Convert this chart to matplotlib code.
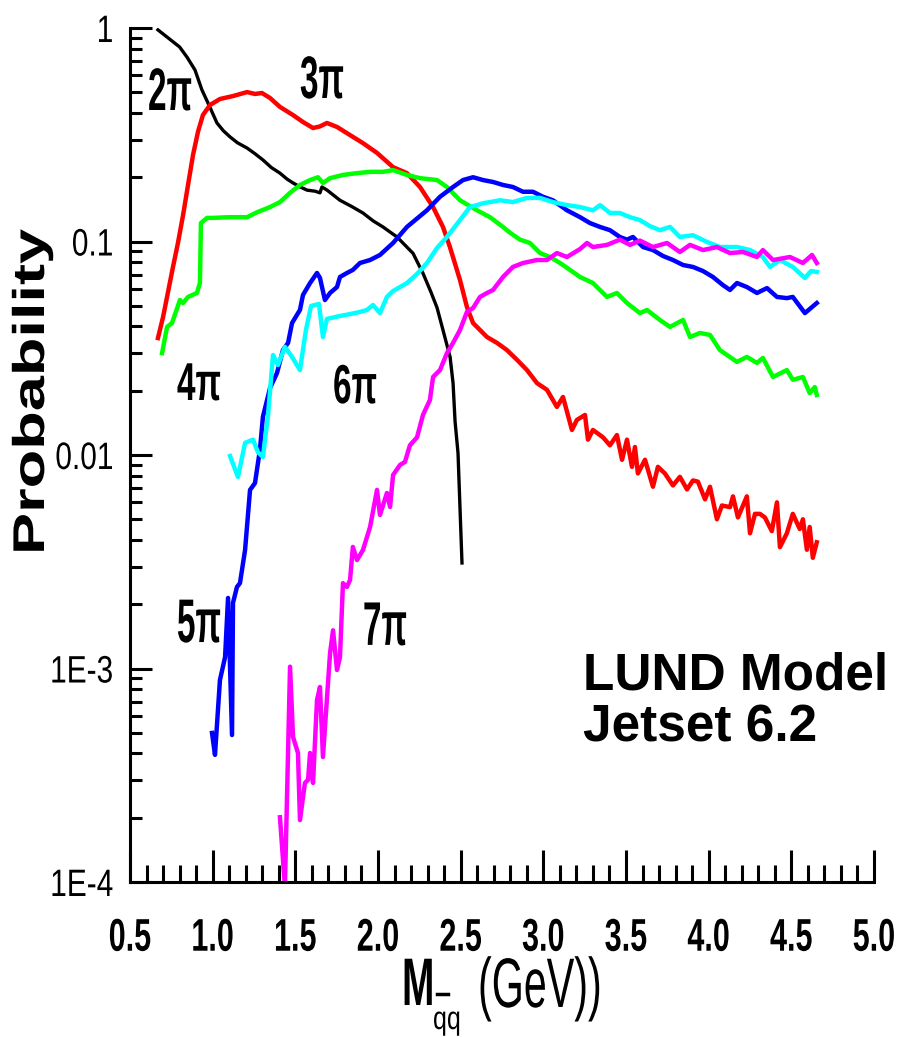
import numpy as np
import matplotlib.pyplot as plt
from matplotlib.patheffects import AbstractPathEffect
from matplotlib.transforms import Affine2D
from matplotlib.ticker import FixedLocator, NullFormatter
from matplotlib.lines import Line2D

plt.rcParams['font.family'] = ['Liberation Sans', 'DejaVu Sans']

# Multiplicity probabilities vs q-qbar mass (GeV), LUND / Jetset 6.2
m_2pi = [0.669, 0.724, 0.800, 0.845, 0.893, 0.935, 0.972, 1.026, 1.065, 1.105, 1.150, 1.208,
         1.255, 1.304, 1.355, 1.407, 1.450, 1.486, 1.530, 1.571, 1.620, 1.649, 1.661, 1.692,
         1.730, 1.770, 1.840, 1.909, 1.970, 2.030, 2.115, 2.170, 2.212, 2.272, 2.320, 2.357,
         2.393, 2.436, 2.454, 2.466, 2.484, 2.508]
p_2pi = [0.98, 0.907, 0.815, 0.73, 0.636, 0.513, 0.445, 0.359, 0.33, 0.309, 0.29, 0.274,
         0.258, 0.241, 0.222, 0.209, 0.196, 0.188, 0.180, 0.174, 0.172, 0.169, 0.180, 0.174,
         0.165, 0.156, 0.146, 0.136, 0.125, 0.117, 0.105, 0.095, 0.088, 0.071, 0.058, 0.049,
         0.0385, 0.0288, 0.0217, 0.0144, 0.0102, 0.00312]

m_3pi = [0.669, 0.700, 0.730, 0.760, 0.790, 0.821, 0.851, 0.881, 0.911, 0.941, 0.984, 1.044,
         1.123, 1.208, 1.256, 1.298, 1.347, 1.407, 1.486, 1.546, 1.607, 1.649, 1.691, 1.752,
         1.831, 1.909, 1.994, 2.091, 2.175, 2.254, 2.333, 2.393, 2.435, 2.496, 2.538, 2.575,
         2.617, 2.659, 2.720, 2.780, 2.841, 2.901, 2.962, 3.022, 3.082, 3.119, 3.173, 3.203,
         3.252, 3.270, 3.300, 3.361, 3.403, 3.445, 3.476, 3.506, 3.536, 3.554, 3.572, 3.615,
         3.663, 3.693, 3.735, 3.784, 3.826, 3.869, 3.905, 3.935, 3.978, 4.008, 4.050, 4.080,
         4.129, 4.147, 4.177, 4.231, 4.250, 4.280, 4.310, 4.340, 4.382, 4.413, 4.431, 4.473,
         4.509, 4.551, 4.570, 4.594, 4.611, 4.630, 4.654]
p_3pi = [0.0353, 0.0443, 0.058, 0.076, 0.0984, 0.133, 0.184, 0.254, 0.326, 0.391, 0.436, 0.465,
         0.480, 0.501, 0.491, 0.496, 0.470, 0.427, 0.391, 0.363, 0.340, 0.346, 0.359, 0.344,
         0.315, 0.289, 0.260, 0.223, 0.209, 0.180, 0.145, 0.117, 0.0942, 0.066, 0.0493, 0.0415,
         0.0385, 0.0357, 0.0335, 0.0310, 0.0279, 0.0250, 0.0217, 0.0202, 0.0168, 0.0187, 0.0131, 0.0146,
         0.0154, 0.0118, 0.0131, 0.0121, 0.0111, 0.0124, 0.0095, 0.0118, 0.0088, 0.0109, 0.0082, 0.0095,
         0.0071, 0.0088, 0.0082, 0.0072, 0.0079, 0.0069, 0.0076, 0.0075, 0.0062, 0.0071, 0.0050, 0.0058,
         0.0057, 0.0064, 0.0051, 0.0064, 0.0043, 0.0053, 0.0053, 0.0051, 0.0044, 0.0060, 0.0037, 0.0043,
         0.0053, 0.0045, 0.0050, 0.0036, 0.0046, 0.0033, 0.0039]

m_4pi = [0.694, 0.724, 0.754, 0.802, 0.821, 0.851, 0.905, 0.923, 0.929, 0.966, 1.002, 1.105,
         1.208, 1.268, 1.347, 1.407, 1.468, 1.528, 1.589, 1.637, 1.667, 1.710, 1.788, 1.873,
         1.952, 2.030, 2.091, 2.175, 2.254, 2.357, 2.417, 2.496, 2.599, 2.677, 2.756, 2.798,
         2.859, 2.919, 2.980, 3.040, 3.101, 3.161, 3.222, 3.300, 3.385, 3.445, 3.506, 3.584,
         3.627, 3.705, 3.766, 3.845, 3.887, 3.947, 4.008, 4.068, 4.171, 4.231, 4.292, 4.328,
         4.389, 4.473, 4.509, 4.570, 4.611, 4.642, 4.654]
p_4pi = [0.0300, 0.0398, 0.0415, 0.0532, 0.0515, 0.0550, 0.0574, 0.064, 0.122, 0.129, 0.129, 0.130,
         0.130, 0.137, 0.145, 0.153, 0.169, 0.184, 0.194, 0.200, 0.188, 0.198, 0.205, 0.209,
         0.212, 0.212, 0.216, 0.205, 0.198, 0.194, 0.180, 0.156, 0.140, 0.130, 0.117, 0.110,
         0.102, 0.0984, 0.0883, 0.0846, 0.0793, 0.0736, 0.0682, 0.0639, 0.0550, 0.0574, 0.0515, 0.0462,
         0.0478, 0.0429, 0.0398, 0.0429, 0.0357, 0.0373, 0.0365, 0.0310, 0.0273, 0.0288, 0.0270, 0.0285,
         0.0232, 0.0250, 0.0225, 0.0232, 0.0195, 0.0208, 0.0191]

m_5pi = [0.996, 1.014, 1.044, 1.075, 1.093, 1.117, 1.123, 1.147, 1.165, 1.196, 1.226, 1.256,
         1.286, 1.304, 1.347, 1.389, 1.425, 1.456, 1.480, 1.528, 1.546, 1.589, 1.631, 1.649,
         1.679, 1.710, 1.752, 1.770, 1.812, 1.848, 1.891, 1.952, 2.012, 2.091, 2.175, 2.296,
         2.375, 2.454, 2.514, 2.575, 2.635, 2.696, 2.756, 2.816, 2.877, 2.937, 2.998, 3.058,
         3.143, 3.222, 3.282, 3.343, 3.403, 3.463, 3.506, 3.542, 3.603, 3.663, 3.724, 3.784,
         3.845, 3.905, 3.966, 4.026, 4.086, 4.129, 4.171, 4.231, 4.292, 4.353, 4.413, 4.473,
         4.509, 4.582, 4.625, 4.654]
p_5pi = [0.000499, 0.000394, 0.000883, 0.00113, 0.00214, 0.000488, 0.00203, 0.00241, 0.00251, 0.00359, 0.00686, 0.00739,
         0.0106, 0.0151, 0.0206, 0.0242, 0.0310, 0.0335, 0.0415, 0.0478, 0.0561, 0.0639, 0.0712, 0.0675,
         0.0532, 0.0574, 0.0612, 0.0682, 0.0712, 0.0736, 0.0793, 0.0819, 0.0865, 0.0984, 0.117, 0.140,
         0.162, 0.180, 0.194, 0.200, 0.194, 0.190, 0.184, 0.180, 0.171, 0.171, 0.162, 0.156,
         0.140, 0.130, 0.122, 0.117, 0.113, 0.105, 0.102, 0.105, 0.0942, 0.0912, 0.0855, 0.0819,
         0.0776, 0.0760, 0.0727, 0.0682, 0.0625, 0.0593, 0.0639, 0.0612, 0.0574, 0.0605, 0.0550, 0.0543,
         0.0550, 0.0462, 0.0493, 0.0515]

m_6pi = [1.105, 1.153, 1.196, 1.244, 1.274, 1.304, 1.335, 1.365, 1.395, 1.437, 1.480, 1.528,
         1.564, 1.595, 1.643, 1.667, 1.691, 1.770, 1.831, 1.891, 1.933, 1.970, 2.012, 2.054,
         2.091, 2.175, 2.236, 2.296, 2.357, 2.417, 2.496, 2.556, 2.635, 2.738, 2.816, 2.901,
         2.980, 3.058, 3.143, 3.222, 3.300, 3.343, 3.403, 3.463, 3.524, 3.584, 3.645, 3.705,
         3.766, 3.826, 3.905, 3.990, 4.068, 4.171, 4.250, 4.328, 4.371, 4.431, 4.509, 4.582,
         4.619, 4.654]
p_6pi = [0.00989, 0.00789, 0.0114, 0.0118, 0.0103, 0.00979, 0.0154, 0.0294, 0.0264, 0.0321, 0.0288, 0.0250,
         0.0385, 0.0499, 0.0510, 0.0357, 0.0434, 0.0448, 0.0457, 0.0468, 0.0478, 0.0504, 0.0462, 0.0550,
         0.0586, 0.0639, 0.0705, 0.0793, 0.0933, 0.105, 0.126, 0.145, 0.151, 0.156, 0.153, 0.160,
         0.160, 0.153, 0.148, 0.145, 0.140, 0.148, 0.136, 0.136, 0.130, 0.126, 0.118, 0.113,
         0.117, 0.105, 0.107, 0.0995, 0.0942, 0.0942, 0.0912, 0.0846, 0.0760, 0.0819, 0.0760, 0.0675,
         0.0727, 0.0720]

m_7pi = [1.407, 1.437, 1.468, 1.486, 1.516, 1.528, 1.558, 1.577, 1.589, 1.607, 1.631, 1.649,
         1.667, 1.710, 1.728, 1.752, 1.770, 1.788, 1.812, 1.831, 1.848, 1.873, 1.909, 1.952,
         1.994, 2.012, 2.054, 2.073, 2.091, 2.133, 2.163, 2.193, 2.236, 2.272, 2.314, 2.333,
         2.375, 2.417, 2.454, 2.496, 2.538, 2.575, 2.617, 2.659, 2.696, 2.756, 2.816, 2.877,
         2.962, 3.022, 3.082, 3.143, 3.222, 3.264, 3.300, 3.385, 3.463, 3.524, 3.584, 3.663,
         3.748, 3.826, 3.887, 3.966, 4.050, 4.129, 4.208, 4.292, 4.328, 4.389, 4.492, 4.570,
         4.625, 4.654]
p_7pi = [0.000201, 0.000095, 0.00102, 0.000478, 0.000402, 0.000195, 0.000291, 0.000301, 0.000402, 0.000291, 0.000712, 0.000819,
         0.000385, 0.00118, 0.00151, 0.000984, 0.00113, 0.00251, 0.00241, 0.00260, 0.00371, 0.00322, 0.00359, 0.00460,
         0.00686, 0.00524, 0.00664, 0.00571, 0.00806, 0.00898, 0.00928, 0.0111, 0.0121, 0.0154, 0.0181, 0.0232,
         0.0250, 0.0300, 0.0335, 0.0385, 0.0468, 0.0488, 0.0550, 0.0574, 0.0593, 0.0682, 0.0760, 0.0793,
         0.0819, 0.0819, 0.0883, 0.0846, 0.0922, 0.0984, 0.0942, 0.0964, 0.102, 0.0964, 0.101, 0.0942,
         0.0984, 0.0893, 0.0964, 0.0912, 0.0942, 0.0883, 0.0893, 0.0846, 0.0912, 0.0819, 0.0846, 0.0793,
         0.0865, 0.0793]

x_ticks = [0.5, 1.0, 1.5, 2.0, 2.5, 3.0, 3.5, 4.0, 4.5, 5.0]
x_ticklabels = ['0.5', '1.0', '1.5', '2.0', '2.5', '3.0', '3.5', '4.0', '4.5', '5.0']
y_ticks = [1e-4, 1e-3, 1e-2, 1e-1, 1]
y_ticklabels = ['1E-4', '1E-3', '0.01', '0.1', '1']


class Stretch(AbstractPathEffect):
    """Scale glyph outlines in screen space about a point given in glyph units (1 em = 100)."""

    def __init__(self, sx=1.0, sy=1.0, ref=(0, 0)):
        super().__init__()
        self.sx, self.sy, self.ref = sx, sy, ref

    def draw_path(self, renderer, gc, tpath, affine, rgbFace=None):
        x0, y0 = affine.transform(np.asarray(self.ref, dtype=float))
        extra = Affine2D().translate(-x0, -y0).scale(self.sx, self.sy).translate(x0, y0)
        renderer.draw_path(gc, tpath, affine + extra, rgbFace)


W, H = 897, 1037


def fpos(px, py):
    # pixel position (from top-left) -> figure fraction
    return px / W, (H - py) / H


fig = plt.figure(figsize=(W / 100, H / 100), dpi=100)
ax = fig.add_axes([130 / W, 155 / H, 744 / W, 854 / H])

ax.plot(m_2pi, p_2pi, color='black', lw=2.4)
ax.plot(m_3pi, p_3pi, color='#ff0000', lw=3.2)
ax.plot(m_4pi, p_4pi, color='#00ff00', lw=3.2)
ax.plot(m_5pi, p_5pi, color='#0000ff', lw=3.2)
ax.plot(m_6pi, p_6pi, color='#00ffff', lw=3.2)
ax.plot(m_7pi, p_7pi, color='#ff00ff', lw=3.2)

ax.set_yscale('log')
ax.set_xlim(0.5, 5.0)
ax.set_ylim(1e-4, 1)

ax.set_xticks(x_ticks, labels=x_ticklabels)
ax.xaxis.set_minor_locator(FixedLocator(np.arange(0.5, 5.001, 0.1)))
ax.set_yticks(y_ticks, labels=y_ticklabels)
ax.yaxis.set_minor_locator(FixedLocator([k * 10.0 ** e for e in range(-4, 0) for k in range(2, 10)]))
ax.yaxis.set_minor_formatter(NullFormatter())

for side in ['top', 'right']:
    ax.spines[side].set_visible(False)
for side in ['left', 'bottom']:
    ax.spines[side].set_linewidth(2.2)

ax.tick_params(axis='x', which='major', direction='in', length=23, width=2.2, pad=25, labelsize=22)
ax.tick_params(axis='x', which='minor', direction='in', length=12, width=2.2)
ax.tick_params(axis='y', which='major', direction='in', length=16, width=2.2, pad=12, labelsize=21.5)
ax.tick_params(axis='y', which='minor', direction='in', length=8.6, width=2.2)

for lbl in ax.get_xticklabels():
    lbl.set_fontweight('bold')
    lbl.set_path_effects([Stretch(sy=1.5, ref=(0, 72))])
for lbl in ax.get_yticklabels():
    lbl.set_path_effects([Stretch(sy=1.28, ref=(0, 36))])

# curve labels
labels = [('2π', 0.609, 0.413, 1.8), ('3π', 1.528, 0.470, 1.8),
          ('4π', 0.784, 0.0181, 1.6), ('6π', 1.728, 0.0175, 1.65),
          ('5π', 0.784, 0.00133, 1.85), ('7π', 1.909, 0.00129, 1.85)]
for txt, lx, ly, sy in labels:
    ax.text(lx, ly, txt, fontsize=24, fontweight='bold', ha='left', va='baseline',
            path_effects=[Stretch(sy=sy)])

# y axis title
fig.text(*fpos(44, 555), 'Probability', rotation=90, rotation_mode='anchor',
         ha='left', va='baseline', fontsize=32, fontweight='bold',
         path_effects=[Stretch(sy=1.42)])

# x axis title: M_{q qbar} (GeV))
fig.text(*fpos(402, 1005), 'M', fontsize=28, fontweight='bold', ha='left', va='baseline',
         path_effects=[Stretch(sy=1.73)])
fig.text(*fpos(433, 1029), 'qq', fontsize=18, ha='left', va='baseline',
         path_effects=[Stretch(sy=1.3)])
fig.add_artist(Line2D([437 / W, 448 / W], [(H - 994) / H] * 2, color='black', lw=2.5))
fig.text(*fpos(478, 1007), '(GeV))', fontsize=29.7, ha='left', va='baseline',
         path_effects=[Stretch(sy=1.7)])

fig.text(*fpos(583, 690), 'LUND Model', fontsize=37, fontweight='bold', ha='left', va='baseline')
fig.text(*fpos(583, 742), 'Jetset 6.2', fontsize=37, fontweight='bold', ha='left', va='baseline')

fig.savefig('out.png', dpi=100)
